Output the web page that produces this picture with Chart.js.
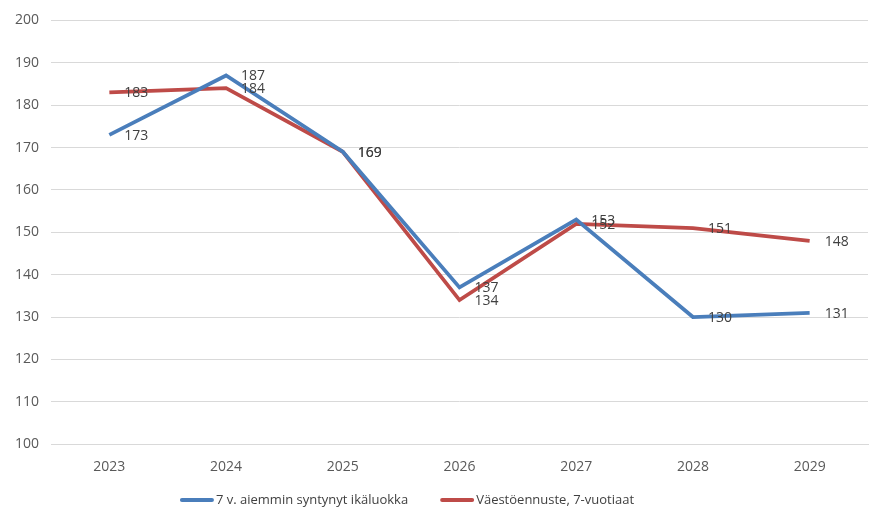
<!DOCTYPE html>
<html>
<head>
<meta charset="utf-8">
<script src="https://cdn.jsdelivr.net/npm/chart.js@4/dist/chart.umd.min.js"></script>
<style>
    html, body { margin: 0; padding: 0; background: #fff; }
    #wrap { width: 886px; height: 525px; }
</style>
</head>
<body>
<div id="wrap"><canvas id="chart"></canvas></div>
<script>
const years = ['2023', '2024', '2025', '2026', '2027', '2028', '2029'];
const birthCohort = [173, 187, 169, 137, 153, 130, 131];
const forecast = [183, 184, 169, 134, 152, 151, 148];
const seriesNames = ['7 v. aiemmin syntynyt ikäluokka', 'Väestöennuste, 7-vuotiaat'];

const BLUE = '#4a7ebb';
const RED = '#be4b48';
const FONT = "'Open Sans', 'Liberation Sans', sans-serif";

// Value labels to the right of each point
const pointLabels = {
    id: 'pointLabels',
    afterDatasetsDraw(chart) {
        const ctx = chart.ctx;
        ctx.save();
        ctx.font = '14px ' + FONT;
        ctx.fillStyle = '#404040';
        ctx.textAlign = 'left';
        ctx.textBaseline = 'middle';
        chart.data.datasets.forEach((ds, i) => {
            chart.getDatasetMeta(i).data.forEach((pt, j) => {
                ctx.fillText(ds.data[j], pt.x + 15, pt.y + 1);
            });
        });
        ctx.restore();
    }
};

// Bottom legend with line swatches, Excel style spacing
const lineLegend = {
    id: 'lineLegend',
    afterDraw(chart) {
        const ctx = chart.ctx;
        const sw = 34, gap = 32, y = 500;
        ctx.save();
        ctx.font = '13px ' + FONT;
        const items = chart.data.datasets.map(ds => ({ ds, w: sw + 2 + ctx.measureText(ds.label).width }));
        const total = items.reduce((a, it) => a + it.w, 0) + gap * (items.length - 1);
        let x = 407 - total / 2;
        ctx.textBaseline = 'middle';
        ctx.fillStyle = '#404040';
        items.forEach(it => {
            ctx.strokeStyle = it.ds.borderColor;
            ctx.lineWidth = 4;
            ctx.lineCap = 'round';
            ctx.beginPath();
            ctx.moveTo(x + 2, y);
            ctx.lineTo(x + sw - 2, y);
            ctx.stroke();
            ctx.fillText(it.ds.label, x + sw + 2, y);
            x += it.w + gap;
        });
        ctx.restore();
    }
};

new Chart(document.getElementById('chart'), {
    type: 'line',
    data: {
        labels: years,
        datasets: [
            { label: seriesNames[0], data: birthCohort, borderColor: BLUE, backgroundColor: BLUE, borderWidth: 3.75, pointRadius: 0, tension: 0 },
            { label: seriesNames[1], data: forecast, borderColor: RED, backgroundColor: RED, borderWidth: 3.75, pointRadius: 0, tension: 0 }
        ]
    },
    options: {
        responsive: true,
        maintainAspectRatio: false,
        animation: false,
        layout: { padding: { top: 9, right: 18, left: 0, bottom: 44 } },
        plugins: {
            legend: { display: false },
            tooltip: { enabled: false }
        },
        scales: {
            x: {
                offset: true,
                grid: { display: false },
                border: { color: '#d9d9d9' },
                ticks: { color: '#595959', font: { family: FONT, size: 14 }, padding: 6 }
            },
            y: {
                min: 100,
                max: 200,
                ticks: { stepSize: 10, color: '#595959', font: { family: FONT, size: 14 }, padding: 12 },
                grid: { color: '#d9d9d9', drawTicks: false },
                border: { display: false },
                afterFit: (s) => { s.width = 51; }
            }
        }
    },
    plugins: [pointLabels, lineLegend]
});
</script>
</body>
</html>
